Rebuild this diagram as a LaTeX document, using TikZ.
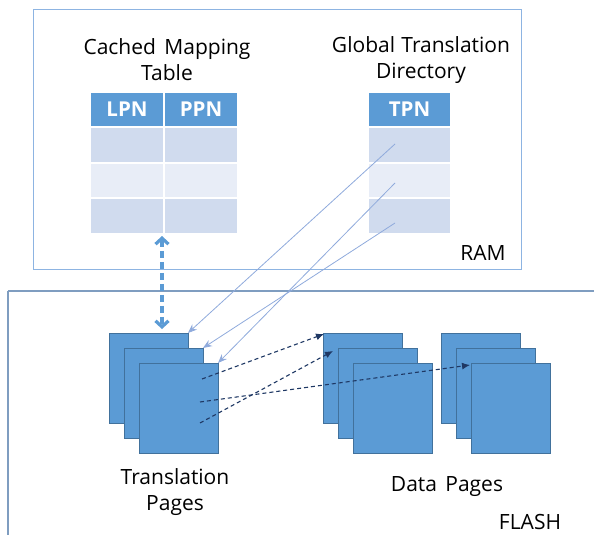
\documentclass[tikz,border=0pt]{standalone}
\usepackage{fontspec}
\setmainfont{Open Sans}
\usetikzlibrary{arrows.meta,positioning}
\definecolor{pageblue}{HTML}{5B9BD5}
\definecolor{pageedge}{HTML}{41719C}
\definecolor{rowdark}{HTML}{D0DBEE}
\definecolor{rowlight}{HTML}{E8EDF7}
\definecolor{ramedge}{HTML}{8DB4E2}
\definecolor{flashedge}{HTML}{7F9DC0}
\definecolor{linkblue}{HTML}{8FAADC}
\definecolor{navy}{HTML}{1F3864}
\tikzset{
  cell/.style={draw=white, line width=1.5pt, minimum height=35pt, inner sep=0pt, outer sep=0pt},
  headcell/.style={cell, fill=pageblue, text=white, font=\fontsize{20.5}{22}\selectfont\bfseries},
  pagebox/.style={draw=pageedge, line width=0.8pt, fill=pageblue, minimum width=79pt, minimum height=90pt, inner sep=0pt, outer sep=0pt, anchor=north west},
  lbl/.style={font=\fontsize{21}{26}\selectfont, align=center, inner sep=0pt},
  link/.style={draw=linkblue, line width=0.8pt, -{Stealth[length=9pt,width=7pt]}},
  dashlink/.style={draw=navy, line width=1.1pt, dash pattern=on 4pt off 3pt, -{Latex[length=8pt,width=7pt]}},
  cachelink/.style={draw=pageblue, line width=3.2pt, dash pattern=on 7pt off 4pt, {Straight Barb[length=6pt,width=13pt,line width=3.2pt]}-{Straight Barb[length=6pt,width=13pt,line width=3.2pt]}}
}
\begin{document}
\begin{tikzpicture}[x=1pt,y=-1pt]
\useasboundingbox (0,0) rectangle (594,535);
% RAM and FLASH frames
\draw[ramedge, line width=1pt] (33,10) rectangle (521,269);
\draw[flashedge, line width=1.2pt] (8,291) -- (600,291);
\draw[flashedge, line width=1.2pt] (8,291) -- (8,540);
\node[lbl] (ramlbl) at (483,253) {RAM};
\node[lbl] (flashlbl) at (530,522) {FLASH};
% titles
\node[lbl] (cmtt) at (167,60) {Cached\hspace{0.4em}Mapping\\Table};
\node[lbl] (gtdt) at (421,60) {Global\hspace{0.3em}Translation\\Directory};
% cached mapping table
\node[headcell, minimum width=74pt] (lpnh) at (127,109.5) {LPN};
\node[headcell, minimum width=74pt] (ppnh) at (201,109.5) {PPN};
\node[cell, fill=rowdark, minimum width=74pt] (l1) at (127,145) {};
\node[cell, fill=rowdark, minimum width=74pt] (p1) at (201,145) {};
\node[cell, fill=rowlight, minimum width=74pt] (l2) at (127,180.5) {};
\node[cell, fill=rowlight, minimum width=74pt] (p2) at (201,180.5) {};
\node[cell, fill=rowdark, minimum width=74pt] (l3) at (127,216) {};
\node[cell, fill=rowdark, minimum width=74pt] (p3) at (201,216) {};
% GTD table
\node[headcell, minimum width=83pt] (tpnh) at (409.5,109.5) {TPN};
\node[cell, fill=rowdark, minimum width=83pt] (t1) at (409.5,145) {};
\node[cell, fill=rowlight, minimum width=83pt] (t2) at (409.5,180.5) {};
\node[cell, fill=rowdark, minimum width=83pt] (t3) at (409.5,216) {};
% translation pages
\node[pagebox] (tp1) at (109,333) {};
\node[pagebox] (tp2) at (124,348) {};
\node[pagebox] (tp3) at (139,363) {};
% data pages
\node[pagebox] (da1) at (323,333) {};
\node[pagebox] (da2) at (338,348) {};
\node[pagebox] (da3) at (353,363) {};
\node[pagebox] (db1) at (441,333) {};
\node[pagebox] (db2) at (456,348) {};
\node[pagebox] (db3) at (471,363) {};
% labels
\node[lbl] (tplbl) at (175,492) {Translation\\Pages};
\node[lbl] (dplbl) at (447,487) {Data\hspace{0.4em}Pages};
% cache double arrow
\coordinate (ctop) at (162,236);
\coordinate (cbot) at (162,329);
\draw[cachelink] (ctop) -- (cbot);
% GTD -> translation pages
\coordinate (g1) at (395,144);
\coordinate (g2) at (395,183);
\coordinate (g3) at (395,223);
\draw[link] (g1) -- (tp1.north east);
\draw[link] (g2) -- (tp3.north east);
\draw[link] (g3) -- (tp2.north east);
% translation pages -> data pages
\coordinate (s1) at (202,379);
\coordinate (s2) at (200,402);
\coordinate (s3) at (200,423);
\coordinate (e1) at (324,334);
\coordinate (e2) at (470,365);
\coordinate (e3) at (333,351);
\draw[dashlink] (s1) -- (e1);
\draw[dashlink] (s2) -- (e2);
\draw[dashlink] (s3) -- (e3);
\end{tikzpicture}
\end{document}
